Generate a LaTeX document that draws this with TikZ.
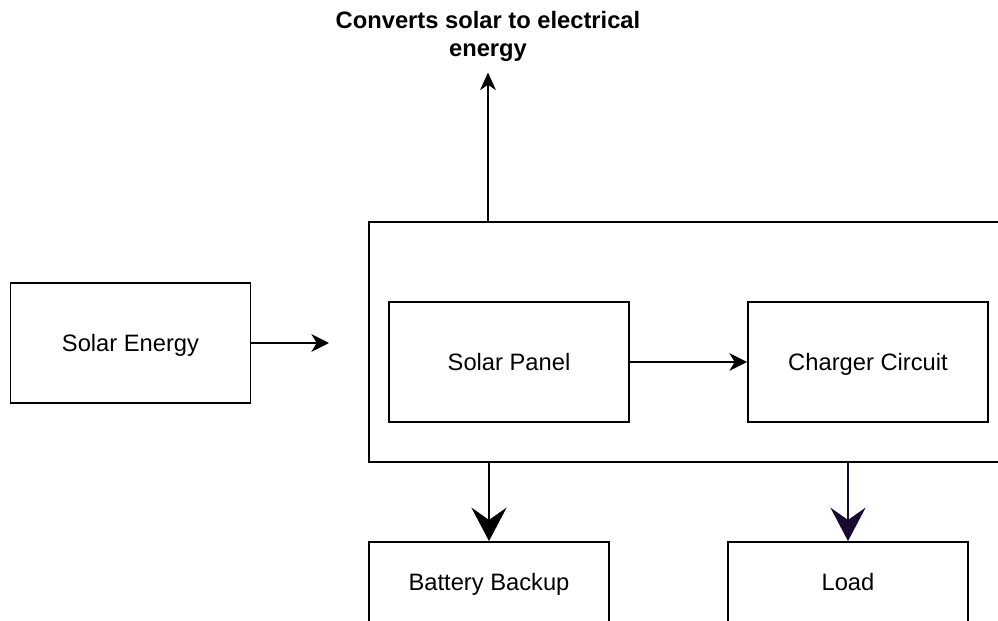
\documentclass[tikz,border=0pt]{standalone}
\usepackage{fontspec}
\setmainfont{Liberation Sans}
\usepackage{tikz}
\usetikzlibrary{arrows.meta}
\definecolor{loadarrow}{HTML}{1A0A33}

\begin{document}
\begin{tikzpicture}[every node/.style={draw, line width=1.1pt, font=\fontsize{13.5}{16}\selectfont, inner sep=0pt, text height=12.2pt, text depth=2.9pt}]
	\useasboundingbox (0,0) rectangle (19.96,12.4);
	\clip (0,0) rectangle (19.96,12.4);

	\node[minimum width=12.8cm, minimum height=4.8cm] (unit) at (13.78,5.56) {};
	\node[minimum width=4.8cm, minimum height=2.4cm] (sun)     at (2.61,5.54)  {Solar Energy};
	\node[minimum width=4.8cm, minimum height=2.4cm] (panel)   at (10.18,5.16) {Solar Panel};
	\node[minimum width=4.8cm, minimum height=2.4cm] (charger) at (17.36,5.16) {Charger Circuit};
	\node[minimum width=4.8cm, minimum height=1.6cm] (battery) at (9.78,0.76)  {Battery Backup};
	\node[minimum width=4.8cm, minimum height=1.6cm] (load)    at (16.96,0.76) {Load};
	\node[draw=none, align=center, font=\bfseries\fontsize{13.5}{16}\selectfont, text height=, text depth=, inner sep=0.2cm, anchor=south] (note) at (9.76,10.95) {Converts solar to electrical\\energy};
	\coordinate (sunend) at (6.58,5.54);

	\draw[line width=1.1pt, -{Stealth[length=10pt, width=10pt, inset=3pt]}] (sun) -- (sunend);
	\draw[line width=1.1pt, -{Stealth[length=10pt, width=10pt, inset=3pt]}] (panel) -- (charger);
	\draw[line width=1.1pt, -{Stealth[length=10pt, width=9pt, inset=3pt]}] (unit.north -| note.south) -- (note.south);
	\draw[line width=1.1pt, -{Stealth[length=19pt, width=20pt, inset=7pt]}] (unit.south -| battery.north) -- (battery.north);
	\draw[line width=1.1pt, loadarrow, -{Stealth[length=19pt, width=20pt, inset=7pt]}] (unit.south -| load.north) -- (load.north);
\end{tikzpicture}
\end{document}
